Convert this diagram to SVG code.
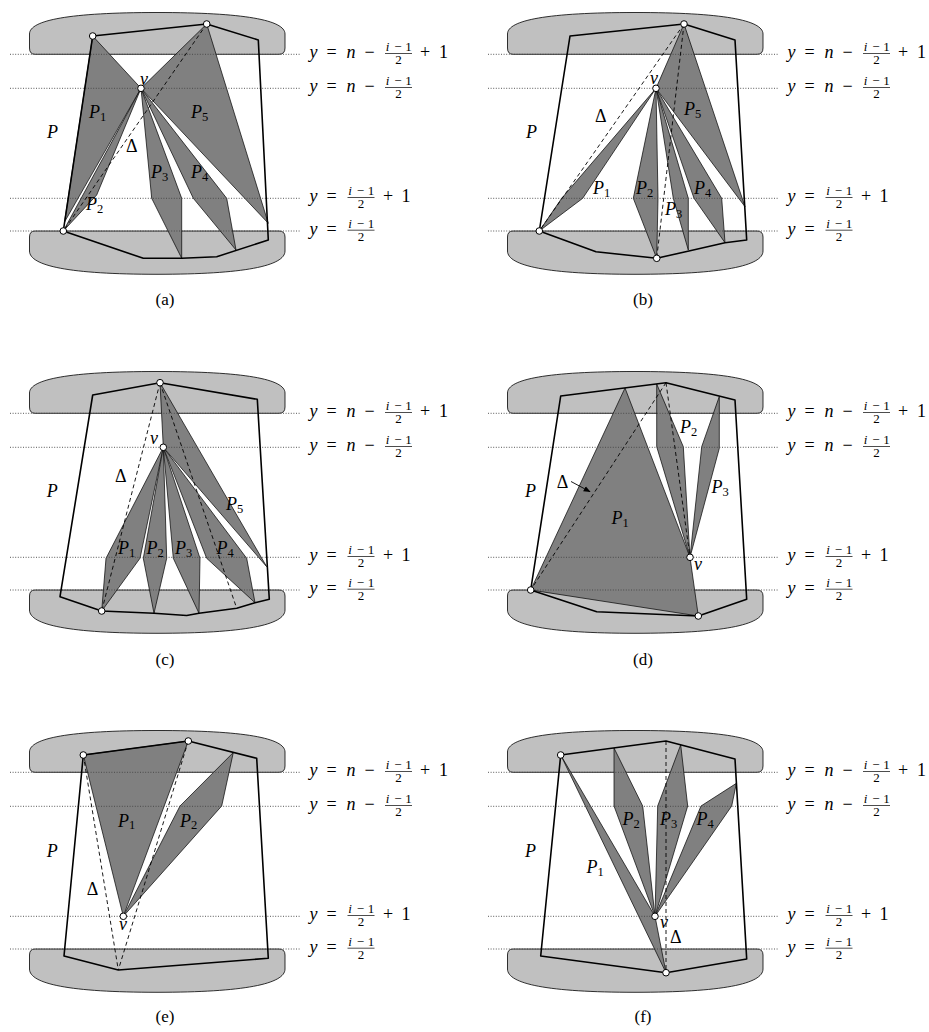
<svg xmlns="http://www.w3.org/2000/svg" width="929" height="1032" viewBox="0 0 929 1032" font-family="'Liberation Serif', 'Times New Roman', serif">
<defs>
<style>
.blob{fill:#c0c0c0;stroke:#000;stroke-width:0.8}
.pk{fill:#808080;stroke:#000;stroke-width:0.7;stroke-linejoin:round}
.poly{fill:none;stroke:#000;stroke-width:1.6;stroke-linejoin:round}
.dot{stroke:#444;stroke-width:0.9;stroke-dasharray:1 1.6}
.dash{stroke:#000;stroke-width:0.9;stroke-dasharray:4 3;fill:none}
.vx{fill:#fff;stroke:#000;stroke-width:1}
.fb{stroke:#000;stroke-width:0.7}
.t{font-family:'Liberation Serif','Times New Roman',serif;font-size:18px;text-anchor:middle;fill:#000}
.f{font-family:'Liberation Serif','Times New Roman',serif;font-size:13px;text-anchor:middle;fill:#000}
.i{font-style:italic}
.lab{font-family:'Liberation Serif','Times New Roman',serif;font-size:18px;font-style:italic;fill:#000}
.sub{font-size:12.5px;font-style:normal}
.dl{font-family:'Liberation Serif','Times New Roman',serif;font-size:18px;fill:#000}
.cap{font-family:'Liberation Serif','Times New Roman',serif;font-size:17px;text-anchor:middle;fill:#000}
</style>
<marker id="ah" viewBox="0 0 10 10" refX="9" refY="5" markerWidth="7" markerHeight="7" orient="auto" markerUnits="userSpaceOnUse"><path d="M0,1 L10,5 L0,9 z" fill="#000"/></marker>
</defs>

<!-- ===== Panel (a) ===== -->
<g id="panel-a">
<path class="blob" d="M35,54.3 L279,54.3 Q285,54.3 285,48 L285,34 C285,20 244,12.5 157,12.5 C70,12.5 29.5,20 29.5,34 L29.5,48 Q29.5,54.3 35,54.3 Z"/>
<path class="blob" d="M35,231 L279,231 Q285,231 285,237 L285,251 C285,266 244,274.3 157,274.3 C70,274.3 29.5,266 29.5,251 L29.5,237 Q29.5,231 35,231 Z"/>
<polygon class="pk" points="92.7,36 141,88.3 64.5,222"/>
<polygon class="pk" points="141,88.3 96.7,195 63.3,231"/>
<polygon class="pk" points="141,88.3 151.7,198.3 181.7,258.3 181.7,198.3"/>
<polygon class="pk" points="141,88.3 193.3,198.3 236,250 226.7,198.3"/>
<polygon class="pk" points="206.7,24 141,88.3 268.3,223.3"/>
<g><line class="dot" x1="10" y1="54.3" x2="300" y2="54.3"/><line class="dot" x1="10" y1="88.3" x2="300" y2="88.3"/><line class="dot" x1="10" y1="198.3" x2="300" y2="198.3"/><line class="dot" x1="10" y1="231" x2="300" y2="231"/></g>
<polygon class="poly" points="92.7,36 206.7,24 258.3,40 268.3,240 216.7,256.7 181.7,258.3 143.3,258.3 63.3,231"/>
<line class="dash" x1="206.7" y1="24" x2="63.3" y2="231"/>
<circle class="vx" cx="92.7" cy="36" r="3.3"/><circle class="vx" cx="206.7" cy="24" r="3.3"/><circle class="vx" cx="141" cy="88.3" r="3.3"/><circle class="vx" cx="63.3" cy="231" r="3.3"/>
<text class="lab" x="140" y="84.5">v</text>
<text class="lab" x="89" y="118">P<tspan class="sub" dy="2.5">1</tspan></text>
<text class="lab" x="191" y="118">P<tspan class="sub" dy="2.5">5</tspan></text>
<text class="lab" x="47" y="138">P</text>
<text class="dl" x="126" y="151.7">Δ</text>
<text class="lab" x="151" y="178">P<tspan class="sub" dy="2.5">3</tspan></text>
<text class="lab" x="191" y="178">P<tspan class="sub" dy="2.5">4</tspan></text>
<text class="lab" x="86" y="210">P<tspan class="sub" dy="2.5">2</tspan></text>
<text class="t" y="57.8"><tspan x="313.5" class="i">y</tspan><tspan x="331.5">=</tspan><tspan x="351" class="i">n</tspan><tspan x="369.5">−</tspan><tspan x="425">+</tspan><tspan x="443.5">1</tspan></text>
<text class="f" y="50.8"><tspan x="387.5" class="i">i</tspan><tspan x="398">−</tspan><tspan x="408.5">1</tspan></text><line class="fb" x1="385" y1="53.5" x2="412" y2="53.5"/><text class="f" x="398.5" y="64.1">2</text>
<text class="t" y="91.8"><tspan x="313.5" class="i">y</tspan><tspan x="331.5">=</tspan><tspan x="351" class="i">n</tspan><tspan x="369.5">−</tspan></text>
<text class="f" y="84.8"><tspan x="387.5" class="i">i</tspan><tspan x="398">−</tspan><tspan x="408.5">1</tspan></text><line class="fb" x1="385" y1="87.5" x2="412" y2="87.5"/><text class="f" x="398.5" y="98.1">2</text>
<text class="t" y="201.8"><tspan x="313.5" class="i">y</tspan><tspan x="331.5">=</tspan><tspan x="388">+</tspan><tspan x="406">1</tspan></text>
<text class="f" y="194.8"><tspan x="350" class="i">i</tspan><tspan x="360.5">−</tspan><tspan x="371">1</tspan></text><line class="fb" x1="347.5" y1="197.5" x2="374.5" y2="197.5"/><text class="f" x="361" y="208.1">2</text>
<text class="t" y="234.5"><tspan x="313.5" class="i">y</tspan><tspan x="331.5">=</tspan></text>
<text class="f" y="227.5"><tspan x="350" class="i">i</tspan><tspan x="360.5">−</tspan><tspan x="371">1</tspan></text><line class="fb" x1="347.5" y1="230.2" x2="374.5" y2="230.2"/><text class="f" x="361" y="240.8">2</text>
<text class="cap" x="165" y="305">(a)</text>
</g>

<!-- ===== Panel (b) ===== -->
<g id="panel-b" transform="translate(478,0)">
<path class="blob" d="M35,54.3 L279,54.3 Q285,54.3 285,48 L285,34 C285,20 244,12.5 157,12.5 C70,12.5 29.5,20 29.5,34 L29.5,48 Q29.5,54.3 35,54.3 Z"/>
<path class="blob" d="M35,231 L279,231 Q285,231 285,237 L285,251 C285,266 244,274.3 157,274.3 C70,274.3 29.5,266 29.5,251 L29.5,237 Q29.5,231 35,231 Z"/>
<polygon class="pk" points="178,88.3 83.7,198.3 61.3,231 104.7,198.3"/>
<polygon class="pk" points="178,88.3 155.3,198.3 178.7,258.3 180,198.3"/>
<polygon class="pk" points="178,88.3 195.3,198.3 210.3,250 210.3,198.3"/>
<polygon class="pk" points="178,88.3 216,198.3 247,242.7 243.7,198.3"/>
<polygon class="pk" points="206,24 178,88.3 267,206.7"/>
<g><line class="dot" x1="10" y1="54.3" x2="300" y2="54.3"/><line class="dot" x1="10" y1="88.3" x2="300" y2="88.3"/><line class="dot" x1="10" y1="198.3" x2="300" y2="198.3"/><line class="dot" x1="10" y1="231" x2="300" y2="231"/></g>
<polygon class="poly" points="92,36 206,24 257,40 268.7,240 247,242.7 212,250.7 178.7,258.3 118,251.7 61.3,231"/>
<line class="dash" x1="206" y1="24" x2="61.3" y2="231"/>
<line class="dash" x1="206" y1="24" x2="178.7" y2="258.3"/>
<circle class="vx" cx="206" cy="24" r="3.3"/><circle class="vx" cx="178" cy="88.3" r="3.3"/><circle class="vx" cx="61.3" cy="231" r="3.3"/><circle class="vx" cx="178.7" cy="258.3" r="3.3"/>
<text class="lab" x="172" y="84">v</text>
<text class="dl" x="117" y="121.7">Δ</text>
<text class="lab" x="48" y="138">P</text>
<text class="lab" x="206" y="115">P<tspan class="sub" dy="2.5">5</tspan></text>
<text class="lab" x="115" y="194">P<tspan class="sub" dy="2.5">1</tspan></text>
<text class="lab" x="158" y="194">P<tspan class="sub" dy="2.5">2</tspan></text>
<text class="lab" x="187" y="215">P<tspan class="sub" dy="2.5">3</tspan></text>
<text class="lab" x="216" y="194">P<tspan class="sub" dy="2.5">4</tspan></text>
<text class="t" y="57.8"><tspan x="313.5" class="i">y</tspan><tspan x="331.5">=</tspan><tspan x="351" class="i">n</tspan><tspan x="369.5">−</tspan><tspan x="425">+</tspan><tspan x="443.5">1</tspan></text>
<text class="f" y="50.8"><tspan x="387.5" class="i">i</tspan><tspan x="398">−</tspan><tspan x="408.5">1</tspan></text><line class="fb" x1="385" y1="53.5" x2="412" y2="53.5"/><text class="f" x="398.5" y="64.1">2</text>
<text class="t" y="91.8"><tspan x="313.5" class="i">y</tspan><tspan x="331.5">=</tspan><tspan x="351" class="i">n</tspan><tspan x="369.5">−</tspan></text>
<text class="f" y="84.8"><tspan x="387.5" class="i">i</tspan><tspan x="398">−</tspan><tspan x="408.5">1</tspan></text><line class="fb" x1="385" y1="87.5" x2="412" y2="87.5"/><text class="f" x="398.5" y="98.1">2</text>
<text class="t" y="201.8"><tspan x="313.5" class="i">y</tspan><tspan x="331.5">=</tspan><tspan x="388">+</tspan><tspan x="406">1</tspan></text>
<text class="f" y="194.8"><tspan x="350" class="i">i</tspan><tspan x="360.5">−</tspan><tspan x="371">1</tspan></text><line class="fb" x1="347.5" y1="197.5" x2="374.5" y2="197.5"/><text class="f" x="361" y="208.1">2</text>
<text class="t" y="234.5"><tspan x="313.5" class="i">y</tspan><tspan x="331.5">=</tspan></text>
<text class="f" y="227.5"><tspan x="350" class="i">i</tspan><tspan x="360.5">−</tspan><tspan x="371">1</tspan></text><line class="fb" x1="347.5" y1="230.2" x2="374.5" y2="230.2"/><text class="f" x="361" y="240.8">2</text>
<text class="cap" x="165" y="305">(b)</text>
</g>

<!-- ===== Panel (c) ===== -->
<g id="panel-c" transform="translate(0,359)">
<path class="blob" d="M35,54.3 L279,54.3 Q285,54.3 285,48 L285,34 C285,20 244,12.5 157,12.5 C70,12.5 29.5,20 29.5,34 L29.5,48 Q29.5,54.3 35,54.3 Z"/>
<path class="blob" d="M35,231 L279,231 Q285,231 285,237 L285,251 C285,266 244,274.3 157,274.3 C70,274.3 29.5,266 29.5,251 L29.5,237 Q29.5,231 35,231 Z"/>
<polygon class="pk" points="163.3,88.3 106,199.3 101.7,252 140,199.3"/>
<polygon class="pk" points="163.3,88.3 143.3,199.3 154,254.3 166.7,199.3"/>
<polygon class="pk" points="163.3,88.3 173.3,199.3 199,254.3 200,199.3"/>
<polygon class="pk" points="163.3,88.3 206.7,199.3 255,243.7 246.7,199.3"/>
<polygon class="pk" points="160,23.7 163.3,88.3 266.7,207.7"/>
<g><line class="dot" x1="10" y1="54.3" x2="300" y2="54.3"/><line class="dot" x1="10" y1="88.3" x2="300" y2="88.3"/><line class="dot" x1="10" y1="198.3" x2="300" y2="198.3"/><line class="dot" x1="10" y1="231" x2="300" y2="231"/></g>
<polygon class="poly" points="92.7,36 160,23.7 257.3,40.3 269.3,240.3 255,243.7 236.7,249.3 199,254.3 186.7,256.5 154,254.3 101.7,252 60,237.7"/>
<line class="dash" x1="160" y1="23.7" x2="101.7" y2="252"/>
<line class="dash" x1="160" y1="23.7" x2="236.7" y2="249.3"/>
<circle class="vx" cx="160" cy="23.7" r="3.3"/><circle class="vx" cx="163.3" cy="88.3" r="3.3"/><circle class="vx" cx="101.7" cy="252" r="3.3"/>
<text class="lab" x="150" y="85">v</text>
<text class="dl" x="115" y="122.7">Δ</text>
<text class="lab" x="46.7" y="137.7">P</text>
<text class="lab" x="226" y="151">P<tspan class="sub" dy="2.5">5</tspan></text>
<text class="lab" x="118" y="195">P<tspan class="sub" dy="2.5">1</tspan></text>
<text class="lab" x="146.5" y="195">P<tspan class="sub" dy="2.5">2</tspan></text>
<text class="lab" x="175" y="195">P<tspan class="sub" dy="2.5">3</tspan></text>
<text class="lab" x="216.5" y="195">P<tspan class="sub" dy="2.5">4</tspan></text>
<text class="t" y="57.8"><tspan x="313.5" class="i">y</tspan><tspan x="331.5">=</tspan><tspan x="351" class="i">n</tspan><tspan x="369.5">−</tspan><tspan x="425">+</tspan><tspan x="443.5">1</tspan></text>
<text class="f" y="50.8"><tspan x="387.5" class="i">i</tspan><tspan x="398">−</tspan><tspan x="408.5">1</tspan></text><line class="fb" x1="385" y1="53.5" x2="412" y2="53.5"/><text class="f" x="398.5" y="64.1">2</text>
<text class="t" y="91.8"><tspan x="313.5" class="i">y</tspan><tspan x="331.5">=</tspan><tspan x="351" class="i">n</tspan><tspan x="369.5">−</tspan></text>
<text class="f" y="84.8"><tspan x="387.5" class="i">i</tspan><tspan x="398">−</tspan><tspan x="408.5">1</tspan></text><line class="fb" x1="385" y1="87.5" x2="412" y2="87.5"/><text class="f" x="398.5" y="98.1">2</text>
<text class="t" y="201.8"><tspan x="313.5" class="i">y</tspan><tspan x="331.5">=</tspan><tspan x="388">+</tspan><tspan x="406">1</tspan></text>
<text class="f" y="194.8"><tspan x="350" class="i">i</tspan><tspan x="360.5">−</tspan><tspan x="371">1</tspan></text><line class="fb" x1="347.5" y1="197.5" x2="374.5" y2="197.5"/><text class="f" x="361" y="208.1">2</text>
<text class="t" y="234.5"><tspan x="313.5" class="i">y</tspan><tspan x="331.5">=</tspan></text>
<text class="f" y="227.5"><tspan x="350" class="i">i</tspan><tspan x="360.5">−</tspan><tspan x="371">1</tspan></text><line class="fb" x1="347.5" y1="230.2" x2="374.5" y2="230.2"/><text class="f" x="361" y="240.8">2</text>
<text class="cap" x="165" y="306">(c)</text>
</g>

<!-- ===== Panel (d) ===== -->
<g id="panel-d" transform="translate(478,359)">
<path class="blob" d="M35,54.3 L279,54.3 Q285,54.3 285,48 L285,34 C285,20 244,12.5 157,12.5 C70,12.5 29.5,20 29.5,34 L29.5,48 Q29.5,54.3 35,54.3 Z"/>
<path class="blob" d="M35,231 L279,231 Q285,231 285,237 L285,251 C285,266 244,274.3 157,274.3 C70,274.3 29.5,266 29.5,251 L29.5,237 Q29.5,231 35,231 Z"/>
<polygon class="pk" points="147,29 212,198.3 220.3,257 52.7,231"/>
<polygon class="pk" points="178.7,25 178.7,87.7 212,198.3 205.3,87.7"/>
<polygon class="pk" points="241.3,37.5 223.7,87.7 212,198.3 241.3,89.3"/>
<g><line class="dot" x1="10" y1="54.3" x2="300" y2="54.3"/><line class="dot" x1="10" y1="88.3" x2="300" y2="88.3"/><line class="dot" x1="10" y1="198.3" x2="300" y2="198.3"/><line class="dot" x1="10" y1="231" x2="300" y2="231"/></g>
<polygon class="poly" points="82.7,37 188,23.7 257,41 268.7,240.3 220.3,257 118.7,252.7 52.7,231"/>
<line class="dash" x1="188" y1="23.7" x2="52.7" y2="231"/>
<line class="dash" x1="188" y1="23.7" x2="212" y2="198.3"/>
<line x1="93" y1="122.5" x2="112" y2="132.7" stroke="#000" stroke-width="0.9" marker-end="url(#ah)"/>
<circle class="vx" cx="52.7" cy="231" r="3.3"/><circle class="vx" cx="212" cy="198.3" r="3.3"/><circle class="vx" cx="220.3" cy="257" r="3.3"/>
<text class="lab" x="47" y="137.7">P</text>
<text class="dl" x="78.7" y="129.3">Δ</text>
<text class="lab" x="133.5" y="165">P<tspan class="sub" dy="2.5">1</tspan></text>
<text class="lab" x="202" y="74">P<tspan class="sub" dy="2.5">2</tspan></text>
<text class="lab" x="233.5" y="134">P<tspan class="sub" dy="2.5">3</tspan></text>
<text class="lab" x="216" y="211">v</text>
<text class="t" y="57.8"><tspan x="313.5" class="i">y</tspan><tspan x="331.5">=</tspan><tspan x="351" class="i">n</tspan><tspan x="369.5">−</tspan><tspan x="425">+</tspan><tspan x="443.5">1</tspan></text>
<text class="f" y="50.8"><tspan x="387.5" class="i">i</tspan><tspan x="398">−</tspan><tspan x="408.5">1</tspan></text><line class="fb" x1="385" y1="53.5" x2="412" y2="53.5"/><text class="f" x="398.5" y="64.1">2</text>
<text class="t" y="91.8"><tspan x="313.5" class="i">y</tspan><tspan x="331.5">=</tspan><tspan x="351" class="i">n</tspan><tspan x="369.5">−</tspan></text>
<text class="f" y="84.8"><tspan x="387.5" class="i">i</tspan><tspan x="398">−</tspan><tspan x="408.5">1</tspan></text><line class="fb" x1="385" y1="87.5" x2="412" y2="87.5"/><text class="f" x="398.5" y="98.1">2</text>
<text class="t" y="201.8"><tspan x="313.5" class="i">y</tspan><tspan x="331.5">=</tspan><tspan x="388">+</tspan><tspan x="406">1</tspan></text>
<text class="f" y="194.8"><tspan x="350" class="i">i</tspan><tspan x="360.5">−</tspan><tspan x="371">1</tspan></text><line class="fb" x1="347.5" y1="197.5" x2="374.5" y2="197.5"/><text class="f" x="361" y="208.1">2</text>
<text class="t" y="234.5"><tspan x="313.5" class="i">y</tspan><tspan x="331.5">=</tspan></text>
<text class="f" y="227.5"><tspan x="350" class="i">i</tspan><tspan x="360.5">−</tspan><tspan x="371">1</tspan></text><line class="fb" x1="347.5" y1="230.2" x2="374.5" y2="230.2"/><text class="f" x="361" y="240.8">2</text>
<text class="cap" x="165" y="306">(d)</text>
</g>

<!-- ===== Panel (e) ===== -->
<g id="panel-e" transform="translate(0,718)">
<path class="blob" d="M35,54.3 L279,54.3 Q285,54.3 285,48 L285,34 C285,20 244,12.5 157,12.5 C70,12.5 29.5,20 29.5,34 L29.5,48 Q29.5,54.3 35,54.3 Z"/>
<path class="blob" d="M35,231 L279,231 Q285,231 285,237 L285,251 C285,266 244,274.3 157,274.3 C70,274.3 29.5,266 29.5,251 L29.5,237 Q29.5,231 35,231 Z"/>
<polygon class="pk" points="83.3,37 188.3,23 123.3,198.3"/>
<polygon class="pk" points="233.3,34.5 180,88 123.3,198.3 221.7,88"/>
<g><line class="dot" x1="10" y1="54.3" x2="300" y2="54.3"/><line class="dot" x1="10" y1="88.3" x2="300" y2="88.3"/><line class="dot" x1="10" y1="198.3" x2="300" y2="198.3"/><line class="dot" x1="10" y1="231" x2="300" y2="231"/></g>
<polygon class="poly" points="83.3,37 188.3,23 256.7,40.3 268.3,240.3 118.3,252 64,238"/>
<line class="dash" x1="83.3" y1="37" x2="118.3" y2="252"/>
<line class="dash" x1="188.3" y1="23" x2="118.3" y2="252"/>
<circle class="vx" cx="83.3" cy="37" r="3.3"/><circle class="vx" cx="188.3" cy="23" r="3.3"/><circle class="vx" cx="123.3" cy="198.3" r="3.3"/>
<text class="lab" x="46.7" y="138.7">P</text>
<text class="lab" x="118" y="108.7">P<tspan class="sub" dy="2.5">1</tspan></text>
<text class="lab" x="180" y="108.7">P<tspan class="sub" dy="2.5">2</tspan></text>
<text class="dl" x="86.7" y="177">Δ</text>
<text class="lab" x="119" y="212">v</text>
<text class="t" y="57.8"><tspan x="313.5" class="i">y</tspan><tspan x="331.5">=</tspan><tspan x="351" class="i">n</tspan><tspan x="369.5">−</tspan><tspan x="425">+</tspan><tspan x="443.5">1</tspan></text>
<text class="f" y="50.8"><tspan x="387.5" class="i">i</tspan><tspan x="398">−</tspan><tspan x="408.5">1</tspan></text><line class="fb" x1="385" y1="53.5" x2="412" y2="53.5"/><text class="f" x="398.5" y="64.1">2</text>
<text class="t" y="91.8"><tspan x="313.5" class="i">y</tspan><tspan x="331.5">=</tspan><tspan x="351" class="i">n</tspan><tspan x="369.5">−</tspan></text>
<text class="f" y="84.8"><tspan x="387.5" class="i">i</tspan><tspan x="398">−</tspan><tspan x="408.5">1</tspan></text><line class="fb" x1="385" y1="87.5" x2="412" y2="87.5"/><text class="f" x="398.5" y="98.1">2</text>
<text class="t" y="201.8"><tspan x="313.5" class="i">y</tspan><tspan x="331.5">=</tspan><tspan x="388">+</tspan><tspan x="406">1</tspan></text>
<text class="f" y="194.8"><tspan x="350" class="i">i</tspan><tspan x="360.5">−</tspan><tspan x="371">1</tspan></text><line class="fb" x1="347.5" y1="197.5" x2="374.5" y2="197.5"/><text class="f" x="361" y="208.1">2</text>
<text class="t" y="234.5"><tspan x="313.5" class="i">y</tspan><tspan x="331.5">=</tspan></text>
<text class="f" y="227.5"><tspan x="350" class="i">i</tspan><tspan x="360.5">−</tspan><tspan x="371">1</tspan></text><line class="fb" x1="347.5" y1="230.2" x2="374.5" y2="230.2"/><text class="f" x="361" y="240.8">2</text>
<text class="cap" x="165" y="304">(e)</text>
</g>

<!-- ===== Panel (f) ===== -->
<g id="panel-f" transform="translate(478,718)">
<path class="blob" d="M35,54.3 L279,54.3 Q285,54.3 285,48 L285,34 C285,20 244,12.5 157,12.5 C70,12.5 29.5,20 29.5,34 L29.5,48 Q29.5,54.3 35,54.3 Z"/>
<path class="blob" d="M35,231 L279,231 Q285,231 285,237 L285,251 C285,266 244,274.3 157,274.3 C70,274.3 29.5,266 29.5,251 L29.5,237 Q29.5,231 35,231 Z"/>
<polygon class="pk" points="82.7,37 177,198.3 188,254.7"/>
<polygon class="pk" points="136,30 136,88 177,198.3 164.7,88"/>
<polygon class="pk" points="202.7,26.8 179.7,88 177,198.3 209.7,88"/>
<polygon class="pk" points="258.4,65.3 223,88 177,198.3 253.7,88"/>
<g><line class="dot" x1="10" y1="54.3" x2="300" y2="54.3"/><line class="dot" x1="10" y1="88.3" x2="300" y2="88.3"/><line class="dot" x1="10" y1="198.3" x2="300" y2="198.3"/><line class="dot" x1="10" y1="231" x2="300" y2="231"/></g>
<polygon class="poly" points="82.7,37 188,23 257,41 268.7,241 188,254.7 62.7,238"/>
<line class="dash" x1="188" y1="23" x2="188" y2="254.7"/>
<circle class="vx" cx="82.7" cy="37" r="3.3"/><circle class="vx" cx="177" cy="198.3" r="3.3"/><circle class="vx" cx="188" cy="254.7" r="3.3"/>
<text class="lab" x="47" y="138.7">P</text>
<text class="lab" x="108.5" y="155">P<tspan class="sub" dy="2.5">1</tspan></text>
<text class="lab" x="144.5" y="107">P<tspan class="sub" dy="2.5">2</tspan></text>
<text class="lab" x="182" y="107">P<tspan class="sub" dy="2.5">3</tspan></text>
<text class="lab" x="218.5" y="107">P<tspan class="sub" dy="2.5">4</tspan></text>
<text class="lab" x="182" y="210">v</text>
<text class="dl" x="192" y="225.3">Δ</text>
<text class="t" y="57.8"><tspan x="313.5" class="i">y</tspan><tspan x="331.5">=</tspan><tspan x="351" class="i">n</tspan><tspan x="369.5">−</tspan><tspan x="425">+</tspan><tspan x="443.5">1</tspan></text>
<text class="f" y="50.8"><tspan x="387.5" class="i">i</tspan><tspan x="398">−</tspan><tspan x="408.5">1</tspan></text><line class="fb" x1="385" y1="53.5" x2="412" y2="53.5"/><text class="f" x="398.5" y="64.1">2</text>
<text class="t" y="91.8"><tspan x="313.5" class="i">y</tspan><tspan x="331.5">=</tspan><tspan x="351" class="i">n</tspan><tspan x="369.5">−</tspan></text>
<text class="f" y="84.8"><tspan x="387.5" class="i">i</tspan><tspan x="398">−</tspan><tspan x="408.5">1</tspan></text><line class="fb" x1="385" y1="87.5" x2="412" y2="87.5"/><text class="f" x="398.5" y="98.1">2</text>
<text class="t" y="201.8"><tspan x="313.5" class="i">y</tspan><tspan x="331.5">=</tspan><tspan x="388">+</tspan><tspan x="406">1</tspan></text>
<text class="f" y="194.8"><tspan x="350" class="i">i</tspan><tspan x="360.5">−</tspan><tspan x="371">1</tspan></text><line class="fb" x1="347.5" y1="197.5" x2="374.5" y2="197.5"/><text class="f" x="361" y="208.1">2</text>
<text class="t" y="234.5"><tspan x="313.5" class="i">y</tspan><tspan x="331.5">=</tspan></text>
<text class="f" y="227.5"><tspan x="350" class="i">i</tspan><tspan x="360.5">−</tspan><tspan x="371">1</tspan></text><line class="fb" x1="347.5" y1="230.2" x2="374.5" y2="230.2"/><text class="f" x="361" y="240.8">2</text>
<text class="cap" x="165" y="304">(f)</text>
</g>
</svg>
